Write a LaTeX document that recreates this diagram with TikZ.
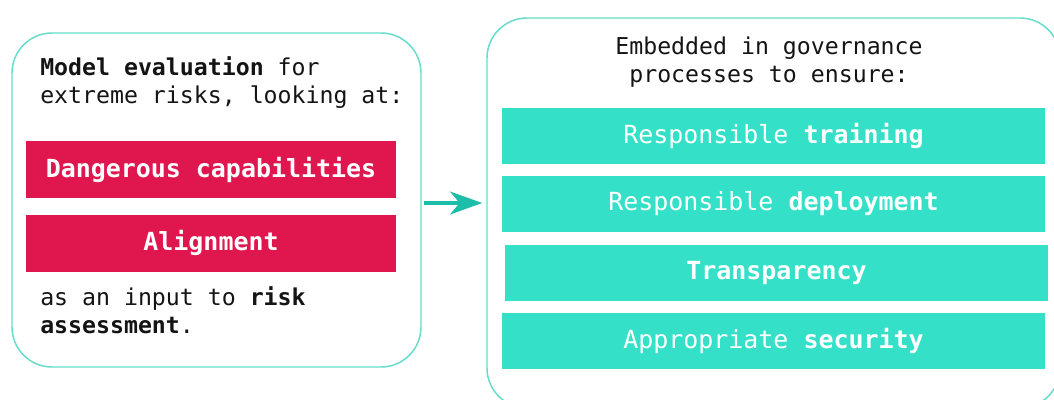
\documentclass[tikz,border=0pt]{standalone}
\usepackage{fontspec}
\setmainfont{DejaVu Sans Mono}
\usepackage{tikz}
\usetikzlibrary{positioning, arrows.meta}
\definecolor{riskred}{HTML}{E0174F}
\definecolor{govteal}{HTML}{34E1C8}
\definecolor{frameline}{HTML}{66DDCC}
\definecolor{arrowteal}{HTML}{1CBEAA}
\definecolor{inkdark}{HTML}{141414}
\tikzset{
    panel/.style={draw=frameline, line width=1.1pt, rounded corners=30pt}, % the two outer frames
    bodytext/.style={inner sep=0pt, text=inkdark, font=\fontsize{17.4}{21}\selectfont}, % plain running text
    riskbox/.style={fill=riskred, text=white, minimum width=277.5pt, minimum height=42.75pt, inner sep=0pt, font=\fontsize{18.7}{22}\selectfont}, % red evaluation boxes
    govbox/.style={fill=govteal, text=white, minimum width=407pt, minimum height=42pt, inner sep=0pt, font=\fontsize{18.7}{22}\selectfont}, % teal governance boxes
    flow/.style={-{Stealth[length=24pt, width=17pt, inset=7pt]}, draw=arrowteal, line width=3.4pt}, % the arrow between the frames
    }

\begin{document}
\begin{tikzpicture}[x=0.75pt, y=-0.75pt]
            \path[use as bounding box, fill=white] (0,0) rectangle (1054,400);
            % left frame
            \node[panel, minimum width=306.75pt, minimum height=250.5pt] (evalframe) at (216.5,200) {};
            \node[bodytext, anchor=base west, align=left] (evalhead) at (40,103) {\textbf{Model evaluation} for\\extreme risks, looking at:};
            \node[riskbox] (dangcap) at (211,169.5) {\textbf{Dangerous capabilities}};
            \node[riskbox, below=12pt of dangcap] (alignment) {\textbf{Alignment}};
            \node[bodytext, anchor=base west, align=left] (evalfoot) at (40,333) {as an input to \textbf{risk}\\\textbf{assessment}.};
            % right frame
            \node[panel, minimum width=429.75pt, minimum height=292.5pt] (govframe) at (773.5,213) {};
            \node[bodytext, anchor=base, align=center] (govhead) at (769,82) {Embedded in governance\\processes to ensure:};
            \node[govbox] (training) at (773.5,135.5) {Responsible \textbf{training}};
            \node[govbox, below=9pt of training] (deploy) {Responsible \textbf{deployment}};
            \node[govbox, below=9pt of deploy, xshift=2.25pt] (transp) {\textbf{Transparency}};
            \node[govbox, below=9pt of transp, xshift=-2.25pt] (security) {Appropriate \textbf{security}};
            \draw[flow, shorten <=2pt, shorten >=3pt] ([yshift=-2.25pt]evalframe.east) -- ([yshift=-2.25pt]evalframe.east -| govframe.west);
            \end{tikzpicture}
\end{document}
